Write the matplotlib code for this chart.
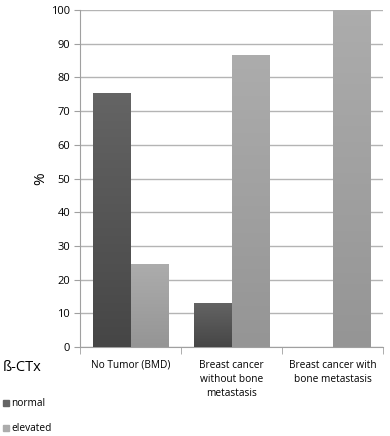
import numpy as np
import matplotlib.pyplot as plt

groups = ['No Tumor (BMD)', 'Breast cancer\nwithout bone\nmetastasis', 'Breast cancer with\nbone metastasis']
normal = [75.3, 13.2, 0]
elevated = [24.5, 86.5, 100]
series = ['normal', 'elevated']

plt.rcParams['font.family'] = ['Open Sans', 'DejaVu Sans']

fig = plt.figure(figsize=(3.9, 4.36), dpi=100)
ax = fig.add_axes([80/390, 1-347/436, 303/390, 337/436])

x = np.arange(len(groups))
w = 0.37
cols = [('#646464', '#464646'), ('#acacac', '#959595')]

def grad_bars(xs, vals, c):
    bars = ax.bar(xs, vals, w, color='none', edgecolor='none', zorder=3)
    for b in bars:
        if b.get_height() <= 0:
            continue
        x0, y0 = b.get_x(), b.get_y()
        x1, y1 = x0 + b.get_width(), y0 + b.get_height()
        g = np.linspace(0, 1, 64).reshape(-1, 1)
        cmap = plt.matplotlib.colors.LinearSegmentedColormap.from_list('g', [c[1], c[0]])
        im = ax.imshow(g, extent=[x0, x1, y0, y1], aspect='auto', cmap=cmap,
                       origin='lower', zorder=3, vmin=0, vmax=1)
        im.set_clip_path(b)
    return bars

grad_bars(x - w/2, normal, cols[0])
grad_bars(x + w/2, elevated, cols[1])

ax.set_xlim(-0.5, 2.5)
ax.set_ylim(0, 100)
ax.set_yticks(range(0, 101, 10))
ax.tick_params(axis='y', labelsize=8, length=4, color='#a0a0a0', pad=3)
ax.set_xticks([-0.5, 0.5, 1.5, 2.5], minor=True)
ax.set_xticks(x)
ax.set_xticklabels(groups, fontsize=7.3, linespacing=1.4, va='top')
ax.tick_params(axis='x', which='major', length=0, pad=9)
ax.tick_params(axis='x', which='minor', length=5, color='#a0a0a0')
ax.yaxis.grid(True, color='#b4b4b4', lw=1)
ax.set_axisbelow(True)
for s in ['top', 'right']:
    ax.spines[s].set_visible(False)
for s in ['left', 'bottom']:
    ax.spines[s].set_color('#a0a0a0')
ax.set_ylabel('%', fontsize=11, labelpad=2)

fig.text(3/390, 1-367/436, 'ß-CTx', fontsize=10.5, va='center')
for i, (lab, c) in enumerate(zip(series, cols)):
    yy = 1 - (403 + i*25)/436
    fig.patches.append(plt.Rectangle((3/390, yy - 3/436), 6/390, 6/436,
                                     transform=fig.transFigure, color=c[0]))
    fig.text(11/390, yy, lab, fontsize=7.3, va='center')

fig.savefig('out.png', dpi=100)
